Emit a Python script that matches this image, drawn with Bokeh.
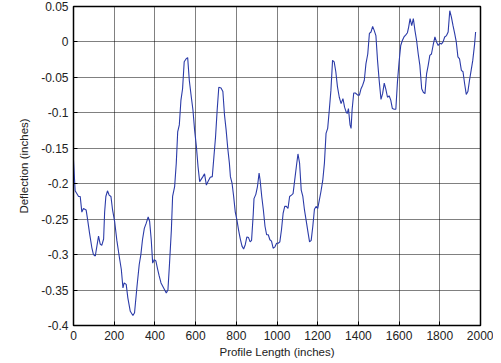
from bokeh.plotting import figure
from bokeh.models import FixedTicker, Range1d
from bokeh.embed import file_html
from bokeh.resources import INLINE

# Profile length (inches)
length = [0, 8, 25, 33, 41, 49, 62, 69, 79, 90, 98, 107, 115, 123, 131, 139, 148, 153, 159, 167,
          175, 184, 192, 202, 213, 225, 235, 243, 249, 259, 267, 279, 292, 300, 312, 323, 331, 339,
          348, 357, 367, 374, 382, 389, 397, 405, 413, 421, 430, 443, 456, 464, 472, 481, 487, 497,
          505, 512, 520, 528, 536, 544, 553, 561, 569, 579, 587, 595, 604, 612, 620,
          636, 644, 653, 661, 672, 682, 690, 698, 706, 714, 725, 734, 742, 750, 758, 766, 771, 779,
          787, 795, 803, 811, 819, 828, 836, 844, 852, 860, 868, 875, 883, 887, 896, 904, 912, 917,
          925, 933, 941, 949, 957, 965, 973, 981, 990, 998, 1006, 1014, 1022, 1030, 1038, 1046,
          1054, 1062, 1071, 1079, 1087, 1095, 1103, 1111, 1119, 1127, 1135, 1144, 1152, 1160, 1168,
          1176, 1184, 1192, 1200, 1208, 1216, 1225, 1233, 1241, 1249, 1257, 1265, 1273, 1281, 1289,
          1297, 1306,
          1315, 1324, 1332, 1340, 1345, 1351, 1359, 1364, 1369, 1377, 1385, 1397, 1405, 1413, 1421,
          1429, 1437, 1446, 1454, 1462, 1470, 1478, 1486, 1494, 1502, 1511, 1519, 1527, 1535, 1543,
          1551, 1559, 1567, 1576, 1584, 1592, 1600, 1608, 1616, 1624, 1633, 1641, 1647, 1654, 1662,
          1670, 1678, 1686, 1694, 1702, 1711, 1719, 1727, 1735, 1743, 1751, 1759, 1767, 1776, 1784,
          1792, 1800, 1808, 1816, 1824, 1833, 1841, 1849, 1857, 1865, 1873, 1881, 1889, 1897, 1906,
          1914, 1922, 1930, 1938, 1946, 1954, 1962, 1971, 1976]

# Deflection (inches)
deflection = [-0.167, -0.21, -0.218, -0.218, -0.24, -0.235, -0.237, -0.25, -0.27, -0.29, -0.30,
              -0.302, -0.288, -0.274, -0.285, -0.287, -0.278, -0.24, -0.218, -0.21, -0.216, -0.218,
              -0.237, -0.253, -0.28, -0.303, -0.321, -0.347, -0.34, -0.342, -0.361, -0.38, -0.386,
              -0.382, -0.345, -0.314, -0.30, -0.279, -0.263, -0.256, -0.247, -0.253, -0.279, -0.312,
              -0.307, -0.309, -0.32, -0.33, -0.34, -0.347, -0.354, -0.35, -0.312, -0.265, -0.218,
              -0.204, -0.171, -0.127, -0.117, -0.082, -0.066, -0.028, -0.024, -0.022, -0.054,
              -0.078, -0.096, -0.124, -0.148, -0.176, -0.197,
              -0.19, -0.186, -0.202, -0.197, -0.191, -0.19, -0.162, -0.134, -0.096, -0.064, -0.065,
              -0.07, -0.103, -0.124, -0.15, -0.171, -0.19, -0.199, -0.218, -0.24, -0.251, -0.265,
              -0.277, -0.288, -0.292, -0.286, -0.275, -0.276, -0.282, -0.28, -0.244, -0.221, -0.215,
              -0.204, -0.185, -0.195, -0.218, -0.237, -0.26, -0.272, -0.272, -0.279, -0.281, -0.291,
              -0.289, -0.284, -0.284, -0.282, -0.265, -0.242, -0.232, -0.232, -0.235, -0.218,
              -0.216, -0.214, -0.195, -0.176, -0.158, -0.171, -0.209, -0.218, -0.237, -0.253,
              -0.268, -0.282, -0.28, -0.26, -0.236, -0.232, -0.235, -0.223, -0.211, -0.195, -0.171,
              -0.129, -0.122, -0.096, -0.068, -0.026, -0.028, -0.042, -0.063, -0.078, -0.087,
              -0.08, -0.092, -0.099, -0.101, -0.094, -0.117, -0.122, -0.096, -0.072, -0.072,
              -0.075, -0.075, -0.066, -0.061, -0.054, -0.031, -0.017, 0.012, 0.014, 0.022, 0.016,
              0.009, -0.026, -0.054, -0.081, -0.073, -0.058, -0.067, -0.078, -0.076, -0.082,
              -0.094, -0.095, -0.095, -0.056, -0.028, -0.005, 0.002, 0.007, 0.01, 0.013, 0.021,
              0.033, 0.023, 0.033, 0.016, 0.002, -0.017, -0.033, -0.066, -0.071, -0.073, -0.045,
              -0.033, -0.019, -0.017, -0.005, 0.007, 0.0, -0.005, -0.002, -0.003, 0.0, 0.007, 0.009,
              0.014, 0.044, 0.035, 0.023, 0.012, 0.0, -0.021, -0.024, -0.04, -0.042, -0.059, -0.074,
              -0.07, -0.054, -0.04, -0.026, -0.003, 0.014, 0.021]

x_ticks = [0, 200, 400, 600, 800, 1000, 1200, 1400, 1600, 1800, 2000]
y_ticks = [-0.4, -0.35, -0.3, -0.25, -0.2, -0.15, -0.1, -0.05, 0.0, 0.05]
y_tick_labels = ["-0.4", "-0.35", "-0.3", "-0.25", "-0.2", "-0.15", "-0.1", "-0.05", "0", "0.05"]

FONT = "Liberation Sans"

p = figure(width=493, height=360, output_backend="svg", toolbar_location=None,
           x_range=Range1d(0, 2000), y_range=Range1d(-0.4, 0.05),
           min_border_left=73, min_border_right=13, min_border_top=6, min_border_bottom=34,
           x_axis_label="Profile Length (inches)", y_axis_label="Deflection (inches)")

p.line(length, deflection, line_color="#2b3ba8", line_width=1.1)

p.xaxis.ticker = FixedTicker(ticks=x_ticks)
p.yaxis.ticker = FixedTicker(ticks=y_ticks)
p.yaxis.major_label_overrides = {t: lab for t, lab in zip(y_ticks, y_tick_labels)}

for ax in (p.xaxis, p.yaxis):
    ax.axis_line_color = "black"
    ax.major_tick_in = 4
    ax.major_tick_out = 0
    ax.minor_tick_line_color = None
    ax.major_tick_line_color = "black"
    ax.major_label_text_font = FONT
    ax.major_label_text_font_size = "12px"
    ax.major_label_text_color = "#222222"
    ax.axis_label_text_font = FONT
    ax.axis_label_text_font_size = "11.5px"
    ax.axis_label_text_font_style = "normal"
    ax.axis_label_text_color = "#222222"

p.xaxis.major_label_standoff = 5
p.xaxis.axis_label_standoff = 3
p.yaxis.major_label_standoff = 5
p.yaxis.axis_label_standoff = 8

p.grid.grid_line_color = "black"
p.grid.grid_line_dash = "1 1"
p.grid.grid_line_alpha = 1.0

p.outline_line_color = "black"
p.outline_line_width = 1.5
p.outline_line_alpha = 1.0
p.background_fill_color = "white"
p.border_fill_color = "white"

open("out.html", "w").write(file_html(p, INLINE))
